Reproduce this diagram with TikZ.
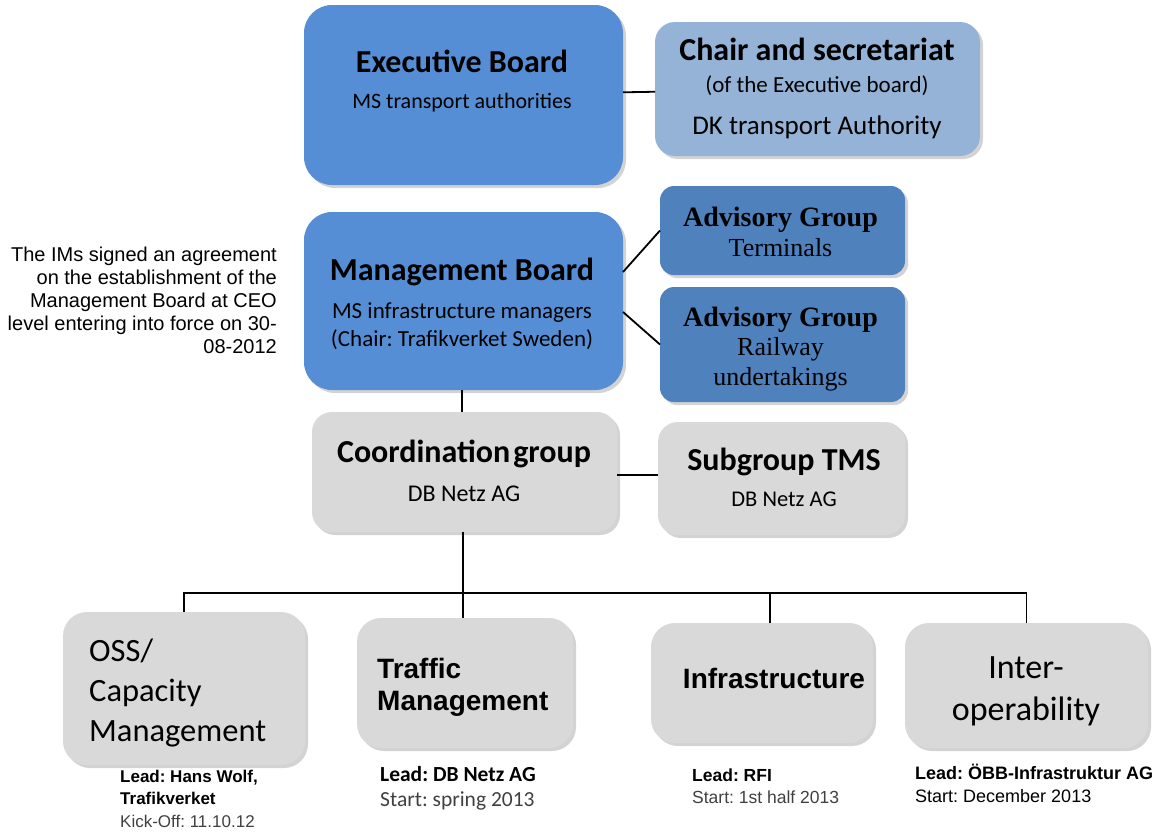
\documentclass[tikz,border=0pt]{standalone}
\usepackage{fontspec}
\setmainfont{Carlito}
\newfontfamily\arialf{Liberation Sans}
\newfontfamily\timesf{Liberation Serif}
\usepackage{xcolor}
\usetikzlibrary{shadows}
\frenchspacing

\definecolor{boardblue}{HTML}{558ED5}
\definecolor{chairblue}{HTML}{95B3D7}
\definecolor{advblue}{HTML}{4F81BD}
\definecolor{wggray}{HTML}{D9D9D9}
\definecolor{leadgray}{HTML}{404040}
\newcommand{\fsz}[2]{\fontsize{#1}{#2}\selectfont}

\begin{document}
\begin{tikzpicture}[x=1pt, y=-1pt,
  box/.style={rounded corners=24pt, inner sep=0pt, outer sep=0pt,
    drop shadow={shadow xshift=3pt, shadow yshift=-3pt, opacity=0.35}},
  board/.style={box, fill=boardblue, rounded corners=28pt},
  chairbox/.style={box, fill=chairblue, rounded corners=20pt},
  advbox/.style={box, fill=advblue, rounded corners=14pt},
  wgbox/.style={box, fill=wggray},
  boxtxt/.style={anchor=base, align=center, inner sep=0pt},
  leadtxt/.style={anchor=base west, align=left, inner sep=0pt},
  link/.style={line width=1.8pt}]
\useasboundingbox (0,0) rectangle (1161,833);

% top level
\node[board, minimum width=319pt, minimum height=180pt] (eb) at (463.5,95) {};
\node[boxtxt, font=\fsz{22}{36}] (ebT) at (462,108)
  {{\fsz{32}{36}\bfseries Executive Board}\\MS transport authorities};
\node[chairbox, minimum width=325pt, minimum height=134pt] (cs) at (817.5,89) {};
\node[boxtxt, font=\fsz{23}{32}] (csT) at (817,134)
  {{\fsz{32}{32}\bfseries Chair and secretariat}\\(of the Executive board)\\[10pt]{\fsz{27}{32}DK transport Authority}};

% management
\node[board, minimum width=319pt, minimum height=178pt] (mb) at (463.5,301) {};
\node[boxtxt, font=\fsz{23}{28}] (mbT) at (462,346)
  {{\fsz{32}{28}\bfseries Management Board}\\[10pt]MS infrastructure managers\\(Chair: Trafikverket Sweden)};
\node[advbox, minimum width=245pt, minimum height=89pt] (agt) at (782.5,230.5) {};
\node[boxtxt, font=\timesf\fsz{26}{30}] (agtT) at (780.5,256)
  {{\bfseries\fsz{28}{30}Advisory Group}\\Terminals};
\node[advbox, minimum width=245pt, minimum height=115pt] (agr) at (782.5,344.5) {};
\node[boxtxt, font=\timesf\fsz{26}{29.5}] (agrT) at (780.5,385)
  {{\bfseries\fsz{28}{30}Advisory Group}\\Railway\\undertakings};

\node[anchor=base east, align=right, inner sep=0pt, font=\arialf\fsz{20}{22.8}] (note) at (277,353)
  {The IMs signed an agreement\\on the establishment of the\\Management Board at CEO\\level entering into force on 30-\\08-2012};

% coordination
\node[wgbox, rounded corners=20pt, minimum width=305pt, minimum height=120pt] (cg) at (464.5,472) {};
\node[boxtxt, font=\fsz{24}{39}] (cgT) at (464,501)
  {{\fsz{32}{39}\bfseries Coordination\hspace{3pt}group}\\DB Netz AG};
\node[wgbox, rounded corners=20pt, minimum width=247pt, minimum height=113pt] (sg) at (781.5,478.5) {};
\node[boxtxt, font=\fsz{22.5}{36}] (sgT) at (784,506)
  {{\fsz{32}{36}\bfseries Subgroup TMS}\\DB Netz AG};

% working groups
\node[wgbox, minimum width=242pt, minimum height=153pt] (oss) at (184,688.5) {};
\node[leadtxt, font=\fsz{32.5}{40}] (ossT) at (89,741) {OSS/\\Capacity\\Management};
\node[wgbox, minimum width=216pt, minimum height=130pt] (tm) at (465,683) {};
\node[leadtxt, font=\arialf\bfseries\fsz{28}{32}] (tmT) at (377,710) {Traffic\\Management};
\node[wgbox, minimum width=222pt, minimum height=120pt] (inf) at (762,683) {};
\node[boxtxt, font=\arialf\bfseries\fsz{28}{32}] (infT) at (774,688) {Infrastructure};
\node[wgbox, minimum width=243pt, minimum height=125pt] (itp) at (1026.5,685.5) {};
\node[boxtxt, font=\fsz{34}{42}] (itpT) at (1026,720) {Inter-\\operability};

% leads
\node[leadtxt, font=\arialf\fsz{17}{22.5}] (ossL) at (120,827)
  {\textbf{Lead: Hans Wolf,}\\\textbf{Trafikverket}\\{\color{leadgray}Kick-Off: 11.10.12}};
\node[leadtxt, font=\fsz{21.5}{25}] (tmL) at (380,806)
  {\textbf{Lead: DB Netz AG}\\{\color{leadgray}Start: spring 2013}};
\node[leadtxt, font=\arialf\fsz{17.5}{22}] (infL) at (692,803)
  {\textbf{Lead: RFI}\\{\color{leadgray}Start: 1st half 2013}};
\node[leadtxt, font=\arialf\fsz{18}{23}] (itpL) at (915,802)
  {\textbf{Lead: ÖBB-Infrastruktur AG}\\Start: December 2013};

% connectors
\coordinate (bus) at (463,593);
\draw[link] (eb) -- (cs);
\draw[link] ([yshift=29pt]mb.east) -- (agt.west);
\draw[link] ([yshift=-11pt]mb.east) -- (agr.west);
\draw[link] ([xshift=-1.5pt]mb.south) -- ([xshift=-1.5pt]mb.south |- cg.north);
\draw[link] ([yshift=-3pt]cg.east) -- ([yshift=-3pt]cg.east -| sg.west);
\draw[link] ([xshift=-1.5pt]cg.south) -- ([xshift=-1.5pt]cg.south |- tm.north);
\draw[link] (oss.north) |- (itp.north |- bus) -- (itp.north);
\foreach \wg in {inf}
  \draw[link] ([xshift=8pt]\wg.north) -- ([xshift=8pt]\wg.north |- bus);
\end{tikzpicture}
\end{document}
